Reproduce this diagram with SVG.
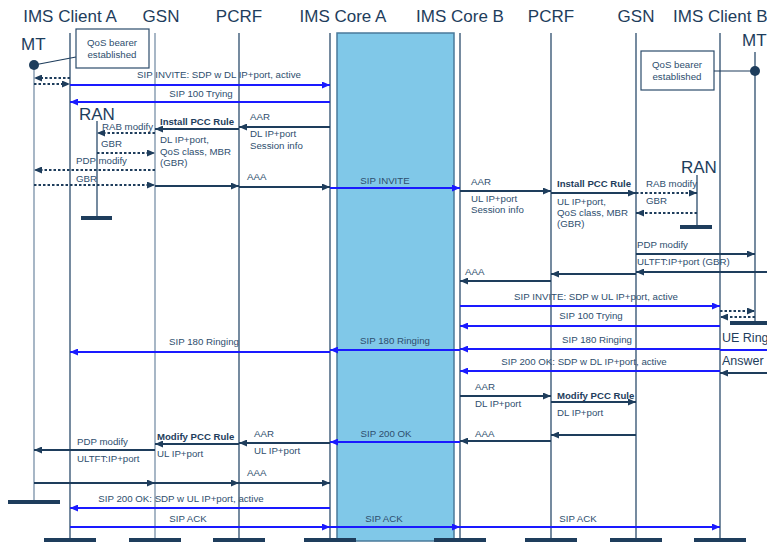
<svg xmlns="http://www.w3.org/2000/svg" width="767" height="543" viewBox="0 0 767 543">
<style>
text{font-family:"Liberation Sans",Arial,sans-serif;fill:#2e4e6e}
.t{font-size:17px;fill:#1e3d5c}
.l{font-size:9.7px}
.b{font-size:9.6px;font-weight:bold;fill:#1e3d5c}
.m{text-anchor:middle}
.ll{stroke:#2c4c6c;stroke-width:1.3;fill:none}
.lg{stroke:#7890a8;stroke-width:1.3;fill:none}
.bar{fill:#1e3d5c}
.n{stroke:#1e3d5c;stroke-width:2;fill:none;marker-end:url(#an)}
.d{stroke:#1e3d5c;stroke-width:2.2;stroke-dasharray:2.5,2;fill:none;marker-end:url(#an)}
.bl{stroke:#1a1aff;stroke-width:2;fill:none;marker-end:url(#ab)}
.box{fill:#fff;stroke:#2c4c6c;stroke-width:1.2}
</style>
<defs>
<marker id="an" markerUnits="userSpaceOnUse" markerWidth="8" markerHeight="7" refX="8" refY="3.5" orient="auto"><path d="M0,0 L8,3.5 L0,7 z" fill="#1e3d5c"/></marker>
<marker id="ab" markerUnits="userSpaceOnUse" markerWidth="8" markerHeight="7" refX="8" refY="3.5" orient="auto"><path d="M0,0 L8,3.5 L0,7 z" fill="#1a1aff"/></marker>
</defs>
<rect width="767" height="543" fill="#fff"/>
<rect x="337" y="33" width="117" height="508" fill="#80c8e8" stroke="#4a7a9a" stroke-width="1.5"/>

<g id="mtA">
<text class="t" x="21" y="50">MT</text>
<line class="lg" x1="34" y1="65" x2="34" y2="501"/>
<circle cx="34" cy="65" r="5" fill="#1e3d5c"/>
<line x1="34" y1="65" x2="76" y2="57" stroke="#1e3d5c" stroke-width="1.2"/>
<rect class="bar" x="8" y="500" width="52" height="4"/>
</g>
<g id="qosA">
<rect class="box" x="76" y="29" width="73" height="39"/>
<text class="l m" x="112" y="46">QoS bearer</text>
<text class="l m" x="112" y="58">established</text>
</g>
<g id="clientA">
<text class="t m" x="70" y="22">IMS Client A</text>
<line class="ll" x1="70" y1="33" x2="70" y2="539"/>
<rect class="bar" x="44" y="538" width="52" height="4"/>
</g>
<g id="ranA">
<text class="t" x="79" y="120">RAN</text>
<line class="ll" x1="97" y1="121" x2="97" y2="217"/>
<rect class="bar" x="81" y="216" width="31" height="4"/>
</g>
<g id="gsnA">
<text class="t m" x="161" y="22">GSN</text>
<line class="lg" x1="155" y1="33" x2="155" y2="539"/>
<rect class="bar" x="129" y="538" width="52" height="4"/>
</g>
<g id="pcrfA">
<text class="t m" x="239" y="22">PCRF</text>
<line class="ll" x1="239" y1="33" x2="239" y2="539"/>
<rect class="bar" x="213" y="538" width="52" height="4"/>
</g>
<g id="coreA">
<text class="t m" x="343" y="22">IMS Core A</text>
<line class="ll" x1="330" y1="33" x2="330" y2="539"/>
<rect class="bar" x="304" y="538" width="52" height="4"/>
</g>
<g id="coreB">
<text class="t m" x="460" y="22">IMS Core B</text>
<line class="ll" x1="460" y1="33" x2="460" y2="539"/>
<rect class="bar" x="434" y="538" width="52" height="4"/>
</g>
<g id="pcrfB">
<text class="t m" x="551" y="22">PCRF</text>
<line class="ll" x1="551" y1="33" x2="551" y2="539"/>
<rect class="bar" x="525" y="538" width="52" height="4"/>
</g>
<g id="gsnB">
<text class="t m" x="636" y="22">GSN</text>
<line class="ll" x1="636" y1="33" x2="636" y2="539"/>
<rect class="bar" x="610" y="538" width="52" height="4"/>
</g>
<g id="ranB">
<text class="t" x="681" y="173">RAN</text>
<line class="ll" x1="697" y1="175" x2="697" y2="226"/>
<rect class="bar" x="680" y="225" width="32" height="4"/>
</g>
<g id="clientB">
<text class="t" x="673" y="22">IMS Client B</text>
<line class="ll" x1="720" y1="33" x2="720" y2="539"/>
<rect class="bar" x="694" y="538" width="52" height="4"/>
</g>
<g id="qosB">
<rect class="box" x="641" y="51" width="73" height="39"/>
<text class="l m" x="677" y="68">QoS bearer</text>
<text class="l m" x="677" y="80">established</text>
</g>
<g id="mtB">
<text class="t" x="742" y="46">MT</text>
<line class="ll" x1="755" y1="52" x2="755" y2="322"/>
<line x1="714" y1="71" x2="755" y2="71" stroke="#1e3d5c" stroke-width="1.2"/>
<circle cx="755" cy="71" r="5" fill="#1e3d5c"/>
<rect class="bar" x="730" y="321" width="52" height="4"/>
<text x="722" y="342" style="font-size:12.5px;fill:#1e3d5c">UE Ringing</text>
<text x="722" y="365" style="font-size:12.5px;fill:#1e3d5c">Answer</text>
</g>

<g id="connectors">
<line class="d" x1="70" y1="78" x2="34" y2="78"/>
<line class="d" x1="34" y1="84" x2="70" y2="84"/>
<line class="bl" x1="70" y1="85" x2="330" y2="85"/>
<line class="bl" x1="330" y1="102" x2="70" y2="102"/>
<line class="n" x1="330" y1="127" x2="239" y2="127"/>
<line class="n" x1="239" y1="129" x2="155" y2="129"/>
<line class="d" x1="155" y1="133" x2="97" y2="133"/>
<line class="d" x1="97" y1="153" x2="155" y2="153"/>
<line class="d" x1="155" y1="170" x2="34" y2="170"/>
<line class="d" x1="34" y1="185" x2="155" y2="185"/>
<line class="n" x1="155" y1="186" x2="239" y2="186"/>
<line class="n" x1="239" y1="187" x2="330" y2="187"/>
<line class="bl" x1="330" y1="188" x2="460" y2="188"/>
<line class="n" x1="460" y1="191" x2="551" y2="191"/>
<line class="n" x1="551" y1="193" x2="636" y2="193"/>
<line class="d" x1="636" y1="193" x2="697" y2="193"/>
<line class="d" x1="697" y1="213" x2="636" y2="213"/>
<line class="n" x1="636" y1="254" x2="755" y2="254"/>
<line class="n" x1="767" y1="272" x2="636" y2="272"/>
<line class="n" x1="636" y1="274" x2="551" y2="274"/>
<line class="n" x1="551" y1="281" x2="460" y2="281"/>
<line class="bl" x1="460" y1="306" x2="720" y2="306"/>
<line class="d" x1="720" y1="311" x2="755" y2="311"/>
<line class="d" x1="755" y1="317" x2="720" y2="317"/>
<line class="bl" x1="720" y1="326" x2="460" y2="326"/>
<line x1="767" y1="350" x2="720" y2="350" stroke="#1a1aff" stroke-width="2"/>
<line class="bl" x1="720" y1="349" x2="460" y2="349"/>
<line class="bl" x1="460" y1="350" x2="330" y2="350"/>
<line class="bl" x1="330" y1="352" x2="70" y2="352"/>
<line class="bl" x1="720" y1="371" x2="460" y2="371"/>
<line class="n" x1="767" y1="373" x2="720" y2="373"/>
<line class="n" x1="460" y1="396" x2="551" y2="396"/>
<line class="n" x1="551" y1="402" x2="636" y2="402"/>
<line class="n" x1="636" y1="435" x2="551" y2="435"/>
<line class="n" x1="551" y1="441" x2="460" y2="441"/>
<line class="bl" x1="460" y1="442" x2="330" y2="442"/>
<line class="n" x1="330" y1="443" x2="239" y2="443"/>
<line class="n" x1="239" y1="444" x2="155" y2="444"/>
<line class="n" x1="155" y1="450" x2="34" y2="450"/>
<line class="n" x1="34" y1="483" x2="155" y2="483"/>
<line class="n" x1="155" y1="483" x2="239" y2="483"/>
<line class="n" x1="239" y1="483" x2="330" y2="483"/>
<line class="bl" x1="330" y1="508" x2="70" y2="508"/>
<line class="bl" x1="70" y1="527" x2="330" y2="527"/>
<line class="bl" x1="330" y1="527" x2="460" y2="527"/>
<line class="bl" x1="460" y1="527" x2="720" y2="527"/>

<text class="l m" x="219" y="78">SIP INVITE: SDP w DL IP+port, active</text>
<text class="l m" x="201" y="97">SIP 100 Trying</text>
<text class="l" x="250" y="120">AAR</text>
<text class="l" x="250" y="137">DL IP+port</text>
<text class="l" x="250" y="149">Session info</text>
<text class="b" x="160" y="125">Install PCC Rule</text>
<text class="l" x="160" y="143">DL IP+port,</text>
<text class="l" x="160" y="155">QoS class, MBR</text>
<text class="l" x="160" y="166">(GBR)</text>
<text class="l" x="102" y="130">RAB modify</text>
<text class="l" x="101" y="147">GBR</text>
<text class="l" x="76" y="164">PDP modify</text>
<text class="l" x="76" y="182">GBR</text>
<text class="l" x="247" y="180">AAA</text>
<text class="l m" x="385" y="184">SIP INVITE</text>
<text class="l" x="471" y="185">AAR</text>
<text class="l" x="471" y="202">UL IP+port</text>
<text class="l" x="471" y="213">Session info</text>
<text class="b" x="557" y="187">Install PCC Rule</text>
<text class="l" x="557" y="205">UL IP+port,</text>
<text class="l" x="557" y="216">QoS class, MBR</text>
<text class="l" x="557" y="227">(GBR)</text>
<text class="l" x="646" y="187">RAB modify</text>
<text class="l" x="646" y="204">GBR</text>
<text class="l" x="637" y="248">PDP modify</text>
<text class="l" x="637" y="265">ULTFT:IP+port (GBR)</text>
<text class="l" x="465" y="275">AAA</text>
<text class="l m" x="596" y="300">SIP INVITE: SDP w UL IP+port, active</text>
<text class="l m" x="591" y="319">SIP 100 Trying</text>
<text class="l m" x="597" y="343">SIP 180 Ringing</text>
<text class="l m" x="395" y="344">SIP 180 Ringing</text>
<text class="l m" x="204" y="345">SIP 180 Ringing</text>
<text class="l m" x="584" y="365">SIP 200 OK: SDP w DL IP+port, active</text>
<text class="l" x="475" y="390">AAR</text>
<text class="l" x="475" y="407">DL IP+port</text>
<text class="b" x="557" y="399">Modify PCC Rule</text>
<text class="l" x="557" y="416">DL IP+port</text>
<text class="l" x="475" y="437">AAA</text>
<text class="l m" x="386" y="437">SIP 200 OK</text>
<text class="l" x="254" y="437">AAR</text>
<text class="l" x="254" y="454">UL IP+port</text>
<text class="b" x="157" y="440">Modify PCC Rule</text>
<text class="l" x="157" y="457">UL IP+port</text>
<text class="l" x="77" y="445">PDP modify</text>
<text class="l" x="77" y="462">ULTFT:IP+port</text>
<text class="l" x="247" y="476">AAA</text>
<text class="l m" x="181" y="502">SIP 200 OK: SDP w UL IP+port, active</text>
<text class="l m" x="188" y="522">SIP ACK</text>
<text class="l m" x="384" y="522">SIP ACK</text>
<text class="l m" x="578" y="522">SIP ACK</text>
</g>
</svg>
